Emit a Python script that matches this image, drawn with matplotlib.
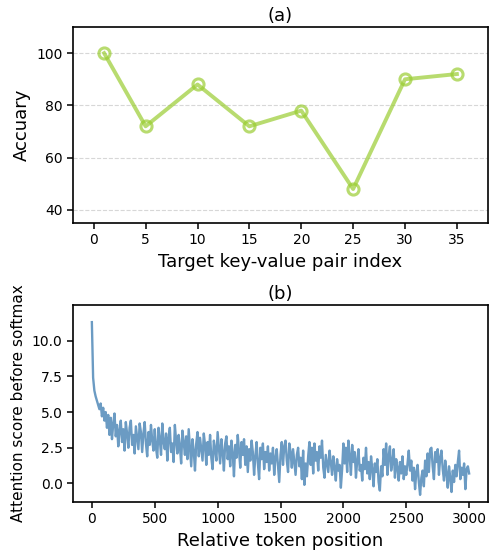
import matplotlib
matplotlib.use('Agg')
import matplotlib.pyplot as plt
import numpy as np

# (a) accuracy vs target key-value pair index
pair_index = [1, 5, 10, 15, 20, 25, 30, 35]
accuracy = [100, 72, 88, 72, 78, 48, 90, 92]

# (b) attention score before softmax, read every 10 token positions
score_step = 10
attn_score = [
    11.3, 7.4, 6.5, 6.1, 5.8, 5.5, 5.2, 5.6, 4.7, 5.3,
    4.4, 5.0, 3.9, 4.8, 3.4, 4.6, 3.1, 4.2, 4.9, 3.3,
    4.1, 2.6, 3.7, 4.4, 2.9, 3.8, 2.3, 4.3, 3.5, 2.5,
    3.9, 4.4, 2.7, 3.4, 2.1, 4.0, 3.2, 2.4, 4.2, 3.6,
    2.2, 3.5, 4.3, 2.8, 1.9, 3.6, 2.7, 4.1, 3.0, 2.3,
    3.8, 2.5, 1.8, 3.9, 3.1, 2.0, 4.2, 2.9, 2.4, 3.5,
    1.6, 3.2, 3.9, 2.2, 2.8, 1.5, 4.1, 3.0, 2.1, 3.4,
    2.6, 1.4, 3.7, 2.9, 2.0, 3.3, 1.7, 3.8, 2.5, 1.2,
    3.1, 2.3, 0.9, 2.8, 3.6, 1.9, 3.2, 2.4, 1.6, 3.5,
    2.7, 1.3, 2.9, 2.0, 3.4, 1.8, 1.0, 3.0, 2.4, 1.6,
    3.6, 2.5, 1.4, 3.1, 2.2, 0.9, 2.8, 3.3, 1.7, 2.6,
    1.2, 3.0, 2.1, 0.5, 2.7, 1.8, 3.4, 2.3, 1.1, 2.9,
    2.0, 3.1, 1.3, 2.6, 0.8, 2.4, 1.6, 3.0, 2.2, 0.6,
    1.9, 2.9, 1.4, 0.3, 2.5, 1.7, 2.8, 1.0, 2.2, 1.5,
    2.6, 0.9, 2.1, 1.4, 2.5, 0.6, 1.8, 2.4, 1.2, 0.1,
    2.0, 2.9, 1.3, 2.6, 3.0, 1.6, 0.8, 2.8, 2.2, 1.1,
    2.4, 1.5, 0.6, 2.0, 2.5, 1.2, 1.8, 0.3, 2.3, -0.1,
    1.4, 0.5, 1.9, 2.9, 1.3, 2.5, 0.7, 2.8, 1.6, 2.2,
    0.9, 2.6, 1.8, 3.0, 1.1, 0.4, 2.0, 1.4, 0.8, 2.3,
    1.5, 0.6, 1.9, 1.1, 0.2, 1.7, 0.9, 1.3, -0.3, 1.0,
    2.8, 1.4, 2.5, 0.8, 3.0, 1.9, 0.6, 2.7, 1.5, 2.2,
    0.4, 1.6, 2.4, 0.9, 1.3, 0.2, 1.8, 1.0, 2.5, 0.7,
    1.5, 0.3, 1.9, 1.0, -0.2, 1.4, 0.8, 1.7, 0.1, -0.5,
    1.2, 0.5, 2.4, 1.3, 2.8, 0.6, 1.9, 2.6, 0.9, 1.5,
    2.4, 0.4, 1.7, 1.1, 0.2, 1.5, 0.7, 1.9, 0.3, 1.2,
    0.6, 1.4, 2.3, 0.9, 1.6, 0.2, 1.1, -0.4, 0.8, 1.3,
    0.1, -0.8, 0.4, 0.9, -0.2, 1.6, 0.5, 2.1, 0.8, 2.4,
    2.5, 1.2, 0.3, 2.2, 1.5, 2.4, 0.6, 1.8, 2.3, 1.0,
    0.2, 1.6, 0.7, -0.3, 1.2, 0.4, -0.6, 0.9, 0.1, 1.3,
    0.5, 1.5, 2.3, 0.3, 1.1, 0.6, 1.4, -0.4, 1.0, 1.2,
    0.7,
]
token_pos = np.arange(len(attn_score)) * score_step

fig = plt.figure(figsize=(4.91, 5.54), dpi=100)

# top panel
ax1 = fig.add_axes([73 / 491, 1 - 223 / 554, 415 / 491, 196 / 554])
ax1.plot(pair_index, accuracy, marker='o', linestyle='-', color='yellowgreen',
         alpha=0.7, linewidth=2.8, markersize=8, markerfacecolor='none',
         markeredgewidth=2.2)
ax1.set_ylim(35, 110)
ax1.set_xlim(-2, 38)
ax1.set_xticks([0, 5, 10, 15, 20, 25, 30, 35])
ax1.set_yticks([40, 60, 80, 100])
ax1.grid(True, axis='y', linestyle='--', color='lightgray', alpha=0.9, linewidth=0.8)
ax1.set_xlabel('Target key-value pair index', fontsize=13)
ax1.set_ylabel('Accuary', fontsize=13)
ax1.set_title('(a)', fontsize=13, pad=4)

# bottom panel
ax2 = fig.add_axes([73 / 491, 1 - 502 / 554, 415 / 491, 197 / 554])
ax2.plot(token_pos, attn_score, color='steelblue', alpha=0.8, linewidth=1.7)
ax2.set_xlim(-150, 3150)
ax2.set_ylim(-1.3, 12.5)
ax2.set_xticks([0, 500, 1000, 1500, 2000, 2500, 3000])
ax2.set_yticks([0.0, 2.5, 5.0, 7.5, 10.0])
ax2.set_xlabel('Relative token position', fontsize=13)
ax2.set_ylabel('Attention score before softmax', fontsize=11)
ax2.set_title('(b)', fontsize=13, pad=4)

for ax in (ax1, ax2):
    ax.tick_params(axis='both', which='major', labelsize=10, width=1.1, length=4)
    for s in ax.spines.values():
        s.set_linewidth(1.2)

plt.savefig('out.png', dpi=100)
